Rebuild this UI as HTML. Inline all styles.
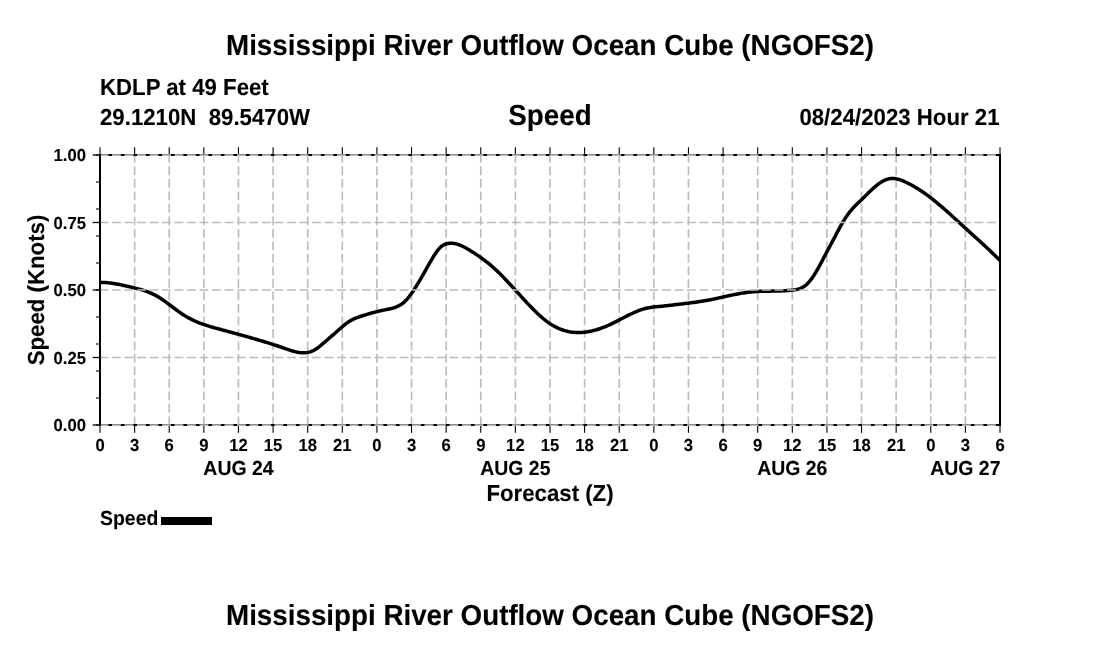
<!DOCTYPE html>
<html lang="en">
<head>
<meta charset="utf-8">
<title>Mississippi River Outflow Ocean Cube (NGOFS2)</title>
<style>
html,body{margin:0;padding:0;background:#fff;}
body{width:1100px;height:650px;overflow:hidden;}
svg{display:block;}
text{font-family:"Liberation Sans",Arial,Helvetica,sans-serif;font-weight:bold;fill:#000;text-rendering:geometricPrecision;white-space:pre;stroke:#000;stroke-width:0.1px;}
</style>
</head>
<body>
<svg width="1100" height="650" viewBox="0 0 1100 650">
<rect x="0" y="0" width="1100" height="650" fill="#fff"/>
<!-- headings -->
<text transform="translate(550.00,54.50) scale(1,1.0436)" font-size="27.78" text-anchor="middle">Mississippi River Outflow Ocean Cube (NGOFS2)</text>
<text transform="translate(100.00,95.00) scale(1,1.0436)" font-size="22.22" xml:space="preserve">KDLP at 49 Feet</text>
<text transform="translate(100.00,125.20) scale(1,1.0436)" font-size="22.22" xml:space="preserve">29.1210N  89.5470W</text>
<text transform="translate(550.00,125.40) scale(1,1.0436)" font-size="27.78" text-anchor="middle">Speed</text>
<text transform="translate(999.50,125.40) scale(1,1.0436)" font-size="22.22" text-anchor="end">08/24/2023 Hour 21</text>
<!-- vertical grid -->
<g stroke="#bcbcbc" stroke-width="1.65" fill="none" stroke-dasharray="8.9 3.6" stroke-dashoffset="1.1">
<line x1="134.62" y1="155.0" x2="134.62" y2="425.0"/>
<line x1="169.23" y1="155.0" x2="169.23" y2="425.0"/>
<line x1="203.85" y1="155.0" x2="203.85" y2="425.0"/>
<line x1="238.46" y1="155.0" x2="238.46" y2="425.0"/>
<line x1="273.08" y1="155.0" x2="273.08" y2="425.0"/>
<line x1="307.69" y1="155.0" x2="307.69" y2="425.0"/>
<line x1="342.31" y1="155.0" x2="342.31" y2="425.0"/>
<line x1="376.92" y1="155.0" x2="376.92" y2="425.0"/>
<line x1="411.54" y1="155.0" x2="411.54" y2="425.0"/>
<line x1="446.15" y1="155.0" x2="446.15" y2="425.0"/>
<line x1="480.77" y1="155.0" x2="480.77" y2="425.0"/>
<line x1="515.38" y1="155.0" x2="515.38" y2="425.0"/>
<line x1="550.00" y1="155.0" x2="550.00" y2="425.0"/>
<line x1="584.62" y1="155.0" x2="584.62" y2="425.0"/>
<line x1="619.23" y1="155.0" x2="619.23" y2="425.0"/>
<line x1="653.85" y1="155.0" x2="653.85" y2="425.0"/>
<line x1="688.46" y1="155.0" x2="688.46" y2="425.0"/>
<line x1="723.08" y1="155.0" x2="723.08" y2="425.0"/>
<line x1="757.69" y1="155.0" x2="757.69" y2="425.0"/>
<line x1="792.31" y1="155.0" x2="792.31" y2="425.0"/>
<line x1="826.92" y1="155.0" x2="826.92" y2="425.0"/>
<line x1="861.54" y1="155.0" x2="861.54" y2="425.0"/>
<line x1="896.15" y1="155.0" x2="896.15" y2="425.0"/>
<line x1="930.77" y1="155.0" x2="930.77" y2="425.0"/>
<line x1="965.38" y1="155.0" x2="965.38" y2="425.0"/>
</g>
<!-- frame: top and bottom axes with ticks -->
<g stroke="#000" fill="none">
<line x1="99.0" y1="155.0" x2="1001.0" y2="155.0" stroke-width="2"/>
<line x1="99.0" y1="425.0" x2="1001.0" y2="425.0" stroke-width="2"/>
<line x1="100.00" y1="155.0" x2="100.00" y2="147.2" stroke-width="1.1"/>
<line x1="100.00" y1="425.0" x2="100.00" y2="432.8" stroke-width="1.1"/>
<line x1="134.62" y1="155.0" x2="134.62" y2="147.2" stroke-width="1.1"/>
<line x1="134.62" y1="425.0" x2="134.62" y2="432.8" stroke-width="1.1"/>
<line x1="169.23" y1="155.0" x2="169.23" y2="147.2" stroke-width="1.1"/>
<line x1="169.23" y1="425.0" x2="169.23" y2="432.8" stroke-width="1.1"/>
<line x1="203.85" y1="155.0" x2="203.85" y2="147.2" stroke-width="1.1"/>
<line x1="203.85" y1="425.0" x2="203.85" y2="432.8" stroke-width="1.1"/>
<line x1="238.46" y1="155.0" x2="238.46" y2="147.2" stroke-width="1.1"/>
<line x1="238.46" y1="425.0" x2="238.46" y2="432.8" stroke-width="1.1"/>
<line x1="273.08" y1="155.0" x2="273.08" y2="147.2" stroke-width="1.1"/>
<line x1="273.08" y1="425.0" x2="273.08" y2="432.8" stroke-width="1.1"/>
<line x1="307.69" y1="155.0" x2="307.69" y2="147.2" stroke-width="1.1"/>
<line x1="307.69" y1="425.0" x2="307.69" y2="432.8" stroke-width="1.1"/>
<line x1="342.31" y1="155.0" x2="342.31" y2="147.2" stroke-width="1.1"/>
<line x1="342.31" y1="425.0" x2="342.31" y2="432.8" stroke-width="1.1"/>
<line x1="376.92" y1="155.0" x2="376.92" y2="147.2" stroke-width="1.1"/>
<line x1="376.92" y1="425.0" x2="376.92" y2="432.8" stroke-width="1.1"/>
<line x1="411.54" y1="155.0" x2="411.54" y2="147.2" stroke-width="1.1"/>
<line x1="411.54" y1="425.0" x2="411.54" y2="432.8" stroke-width="1.1"/>
<line x1="446.15" y1="155.0" x2="446.15" y2="147.2" stroke-width="1.1"/>
<line x1="446.15" y1="425.0" x2="446.15" y2="432.8" stroke-width="1.1"/>
<line x1="480.77" y1="155.0" x2="480.77" y2="147.2" stroke-width="1.1"/>
<line x1="480.77" y1="425.0" x2="480.77" y2="432.8" stroke-width="1.1"/>
<line x1="515.38" y1="155.0" x2="515.38" y2="147.2" stroke-width="1.1"/>
<line x1="515.38" y1="425.0" x2="515.38" y2="432.8" stroke-width="1.1"/>
<line x1="550.00" y1="155.0" x2="550.00" y2="147.2" stroke-width="1.1"/>
<line x1="550.00" y1="425.0" x2="550.00" y2="432.8" stroke-width="1.1"/>
<line x1="584.62" y1="155.0" x2="584.62" y2="147.2" stroke-width="1.1"/>
<line x1="584.62" y1="425.0" x2="584.62" y2="432.8" stroke-width="1.1"/>
<line x1="619.23" y1="155.0" x2="619.23" y2="147.2" stroke-width="1.1"/>
<line x1="619.23" y1="425.0" x2="619.23" y2="432.8" stroke-width="1.1"/>
<line x1="653.85" y1="155.0" x2="653.85" y2="147.2" stroke-width="1.1"/>
<line x1="653.85" y1="425.0" x2="653.85" y2="432.8" stroke-width="1.1"/>
<line x1="688.46" y1="155.0" x2="688.46" y2="147.2" stroke-width="1.1"/>
<line x1="688.46" y1="425.0" x2="688.46" y2="432.8" stroke-width="1.1"/>
<line x1="723.08" y1="155.0" x2="723.08" y2="147.2" stroke-width="1.1"/>
<line x1="723.08" y1="425.0" x2="723.08" y2="432.8" stroke-width="1.1"/>
<line x1="757.69" y1="155.0" x2="757.69" y2="147.2" stroke-width="1.1"/>
<line x1="757.69" y1="425.0" x2="757.69" y2="432.8" stroke-width="1.1"/>
<line x1="792.31" y1="155.0" x2="792.31" y2="147.2" stroke-width="1.1"/>
<line x1="792.31" y1="425.0" x2="792.31" y2="432.8" stroke-width="1.1"/>
<line x1="826.92" y1="155.0" x2="826.92" y2="147.2" stroke-width="1.1"/>
<line x1="826.92" y1="425.0" x2="826.92" y2="432.8" stroke-width="1.1"/>
<line x1="861.54" y1="155.0" x2="861.54" y2="147.2" stroke-width="1.1"/>
<line x1="861.54" y1="425.0" x2="861.54" y2="432.8" stroke-width="1.1"/>
<line x1="896.15" y1="155.0" x2="896.15" y2="147.2" stroke-width="1.1"/>
<line x1="896.15" y1="425.0" x2="896.15" y2="432.8" stroke-width="1.1"/>
<line x1="930.77" y1="155.0" x2="930.77" y2="147.2" stroke-width="1.1"/>
<line x1="930.77" y1="425.0" x2="930.77" y2="432.8" stroke-width="1.1"/>
<line x1="965.38" y1="155.0" x2="965.38" y2="147.2" stroke-width="1.1"/>
<line x1="965.38" y1="425.0" x2="965.38" y2="432.8" stroke-width="1.1"/>
<line x1="1000.00" y1="155.0" x2="1000.00" y2="147.2" stroke-width="1.1"/>
<line x1="1000.00" y1="425.0" x2="1000.00" y2="432.8" stroke-width="1.1"/>
<line x1="100.0" y1="425.00" x2="96.0" y2="425.00" stroke-width="1.1"/>
<line x1="100.0" y1="398.00" x2="96.0" y2="398.00" stroke-width="1.1"/>
<line x1="100.0" y1="371.00" x2="96.0" y2="371.00" stroke-width="1.1"/>
<line x1="100.0" y1="344.00" x2="96.0" y2="344.00" stroke-width="1.1"/>
<line x1="100.0" y1="317.00" x2="96.0" y2="317.00" stroke-width="1.1"/>
<line x1="100.0" y1="290.00" x2="96.0" y2="290.00" stroke-width="1.1"/>
<line x1="100.0" y1="263.00" x2="96.0" y2="263.00" stroke-width="1.1"/>
<line x1="100.0" y1="236.00" x2="96.0" y2="236.00" stroke-width="1.1"/>
<line x1="100.0" y1="209.00" x2="96.0" y2="209.00" stroke-width="1.1"/>
<line x1="100.0" y1="182.00" x2="96.0" y2="182.00" stroke-width="1.1"/>
<line x1="100.0" y1="155.00" x2="96.0" y2="155.00" stroke-width="1.1"/>
<line x1="100.0" y1="425.00" x2="92.7" y2="425.00" stroke-width="1.3"/>
<line x1="100.0" y1="357.50" x2="92.7" y2="357.50" stroke-width="1.3"/>
<line x1="100.0" y1="290.00" x2="92.7" y2="290.00" stroke-width="1.3"/>
<line x1="100.0" y1="222.50" x2="92.7" y2="222.50" stroke-width="1.3"/>
<line x1="100.0" y1="155.00" x2="92.7" y2="155.00" stroke-width="1.3"/>
</g>
<!-- speed curve -->
<clipPath id="pc"><rect x="100.0" y="155.0" width="900.0" height="270.0"/></clipPath>
<polyline points="100.0,282.52 101.5,282.49 103.0,282.50 104.5,282.54 106.0,282.62 107.5,282.73 109.0,282.87 110.5,283.04 112.0,283.24 113.5,283.46 115.0,283.70 116.5,283.96 118.0,284.24 119.5,284.54 121.0,284.85 122.5,285.17 124.0,285.51 125.5,285.85 127.0,286.20 128.5,286.55 130.0,286.90 131.5,287.25 133.0,287.61 134.5,287.97 136.0,288.33 137.5,288.71 139.0,289.10 140.5,289.51 142.0,289.94 143.5,290.40 145.0,290.88 146.5,291.39 148.0,291.95 149.5,292.53 151.0,293.17 152.5,293.84 154.0,294.57 155.5,295.35 157.0,296.18 158.5,297.07 160.0,298.01 161.5,298.99 163.0,300.01 164.5,301.06 166.0,302.14 167.5,303.24 169.0,304.36 170.5,305.49 172.0,306.62 173.5,307.75 175.0,308.88 176.5,309.99 178.0,311.09 179.5,312.16 181.0,313.21 182.5,314.22 184.0,315.19 185.5,316.12 187.0,317.01 188.5,317.85 190.0,318.66 191.5,319.43 193.0,320.16 194.5,320.86 196.0,321.52 197.5,322.16 199.0,322.76 200.5,323.34 202.0,323.90 203.5,324.43 205.0,324.94 206.5,325.43 208.0,325.91 209.5,326.37 211.0,326.81 212.5,327.25 214.0,327.67 215.5,328.09 217.0,328.50 218.5,328.90 220.0,329.31 221.5,329.71 223.0,330.11 224.5,330.52 226.0,330.92 227.5,331.32 229.0,331.73 230.5,332.13 232.0,332.54 233.5,332.95 235.0,333.35 236.5,333.76 238.0,334.18 239.5,334.59 241.0,335.00 242.5,335.42 244.0,335.84 245.5,336.26 247.0,336.68 248.5,337.10 250.0,337.53 251.5,337.96 253.0,338.39 254.5,338.82 256.0,339.26 257.5,339.70 259.0,340.15 260.5,340.59 262.0,341.04 263.5,341.50 265.0,341.96 266.5,342.42 268.0,342.88 269.5,343.35 271.0,343.83 272.5,344.30 274.0,344.79 275.5,345.27 277.0,345.77 278.5,346.26 280.0,346.76 281.5,347.27 283.0,347.78 284.5,348.30 286.0,348.82 287.5,349.34 289.0,349.85 290.5,350.34 292.0,350.81 293.5,351.25 295.0,351.65 296.5,352.00 298.0,352.30 299.5,352.54 301.0,352.71 302.5,352.80 304.0,352.81 305.5,352.73 307.0,352.55 308.5,352.27 310.0,351.87 311.5,351.35 313.0,350.71 314.5,349.93 316.0,349.02 317.5,348.01 319.0,346.90 320.5,345.71 322.0,344.46 323.5,343.17 325.0,341.85 326.5,340.52 328.0,339.20 329.5,337.90 331.0,336.61 332.5,335.33 334.0,334.05 335.5,332.74 337.0,331.41 338.5,330.06 340.0,328.72 341.5,327.39 343.0,326.10 344.5,324.86 346.0,323.68 347.5,322.58 349.0,321.57 350.5,320.66 352.0,319.86 353.5,319.13 355.0,318.48 356.5,317.87 358.0,317.31 359.5,316.76 361.0,316.25 362.5,315.75 364.0,315.27 365.5,314.80 367.0,314.35 368.5,313.91 370.0,313.48 371.5,313.06 373.0,312.66 374.5,312.26 376.0,311.88 377.5,311.51 379.0,311.15 380.5,310.81 382.0,310.47 383.5,310.15 385.0,309.84 386.5,309.54 388.0,309.24 389.5,308.92 391.0,308.58 392.5,308.19 394.0,307.75 395.5,307.23 397.0,306.64 398.5,305.95 400.0,305.14 401.5,304.20 403.0,303.10 404.5,301.82 406.0,300.34 407.5,298.66 409.0,296.81 410.5,294.79 412.0,292.66 413.5,290.45 415.0,288.15 416.5,285.79 418.0,283.36 419.5,280.86 421.0,278.31 422.5,275.70 424.0,273.05 425.5,270.38 427.0,267.70 428.5,265.04 430.0,262.41 431.5,259.83 433.0,257.33 434.5,254.93 436.0,252.67 437.5,250.59 439.0,248.75 440.5,247.18 442.0,245.94 443.5,244.99 445.0,244.29 446.5,243.78 448.0,243.43 449.5,243.22 451.0,243.16 452.5,243.22 454.0,243.39 455.5,243.68 457.0,244.08 458.5,244.56 460.0,245.13 461.5,245.77 463.0,246.48 464.5,247.25 466.0,248.06 467.5,248.91 469.0,249.80 470.5,250.71 472.0,251.65 473.5,252.61 475.0,253.59 476.5,254.60 478.0,255.63 479.5,256.68 481.0,257.74 482.5,258.83 484.0,259.94 485.5,261.08 487.0,262.24 488.5,263.44 490.0,264.67 491.5,265.94 493.0,267.24 494.5,268.59 496.0,269.97 497.5,271.39 499.0,272.84 500.5,274.32 502.0,275.83 503.5,277.36 505.0,278.91 506.5,280.49 508.0,282.08 509.5,283.69 511.0,285.31 512.5,286.94 514.0,288.58 515.5,290.23 517.0,291.88 518.5,293.53 520.0,295.18 521.5,296.83 523.0,298.47 524.5,300.10 526.0,301.72 527.5,303.33 529.0,304.92 530.5,306.49 532.0,308.04 533.5,309.56 535.0,311.06 536.5,312.52 538.0,313.94 539.5,315.33 541.0,316.67 542.5,317.97 544.0,319.22 545.5,320.42 547.0,321.57 548.5,322.66 550.0,323.69 551.5,324.65 553.0,325.56 554.5,326.40 556.0,327.18 557.5,327.91 559.0,328.57 560.5,329.18 562.0,329.74 563.5,330.24 565.0,330.68 566.5,331.08 568.0,331.42 569.5,331.71 571.0,331.96 572.5,332.16 574.0,332.31 575.5,332.41 577.0,332.47 578.5,332.49 580.0,332.47 581.5,332.40 583.0,332.30 584.5,332.15 586.0,331.97 587.5,331.76 589.0,331.50 590.5,331.21 592.0,330.89 593.5,330.53 595.0,330.14 596.5,329.72 598.0,329.26 599.5,328.78 601.0,328.26 602.5,327.72 604.0,327.14 605.5,326.54 607.0,325.91 608.5,325.25 610.0,324.57 611.5,323.86 613.0,323.14 614.5,322.39 616.0,321.63 617.5,320.86 619.0,320.08 620.5,319.30 622.0,318.52 623.5,317.73 625.0,316.95 626.5,316.18 628.0,315.42 629.5,314.68 631.0,313.95 632.5,313.24 634.0,312.56 635.5,311.90 637.0,311.27 638.5,310.68 640.0,310.12 641.5,309.60 643.0,309.12 644.5,308.69 646.0,308.31 647.5,307.98 649.0,307.69 650.5,307.44 652.0,307.22 653.5,307.03 655.0,306.86 656.5,306.71 658.0,306.57 659.5,306.44 661.0,306.30 662.5,306.17 664.0,306.02 665.5,305.86 667.0,305.69 668.5,305.51 670.0,305.32 671.5,305.14 673.0,304.95 674.5,304.77 676.0,304.59 677.5,304.42 679.0,304.24 680.5,304.06 682.0,303.89 683.5,303.71 685.0,303.53 686.5,303.35 688.0,303.17 689.5,302.98 691.0,302.79 692.5,302.60 694.0,302.40 695.5,302.20 697.0,301.99 698.5,301.77 700.0,301.55 701.5,301.31 703.0,301.07 704.5,300.83 706.0,300.57 707.5,300.30 709.0,300.02 710.5,299.73 712.0,299.43 713.5,299.12 715.0,298.80 716.5,298.48 718.0,298.15 719.5,297.82 721.0,297.49 722.5,297.15 724.0,296.81 725.5,296.48 727.0,296.14 728.5,295.81 730.0,295.48 731.5,295.16 733.0,294.84 734.5,294.53 736.0,294.23 737.5,293.94 739.0,293.66 740.5,293.39 742.0,293.14 743.5,292.90 745.0,292.67 746.5,292.46 748.0,292.27 749.5,292.10 751.0,291.95 752.5,291.81 754.0,291.69 755.5,291.59 757.0,291.51 758.5,291.43 760.0,291.37 761.5,291.32 763.0,291.27 764.5,291.24 766.0,291.20 767.5,291.18 769.0,291.16 770.5,291.13 772.0,291.11 773.5,291.09 775.0,291.07 776.5,291.04 778.0,291.01 779.5,290.97 781.0,290.92 782.5,290.86 784.0,290.79 785.5,290.71 787.0,290.61 788.5,290.50 790.0,290.38 791.5,290.23 793.0,290.07 794.5,289.87 796.0,289.62 797.5,289.29 799.0,288.87 800.5,288.33 802.0,287.65 803.5,286.81 805.0,285.79 806.5,284.57 808.0,283.12 809.5,281.44 811.0,279.54 812.5,277.46 814.0,275.19 815.5,272.78 817.0,270.24 818.5,267.59 820.0,264.86 821.5,262.06 823.0,259.22 824.5,256.36 826.0,253.50 827.5,250.65 829.0,247.84 830.5,245.03 832.0,242.23 833.5,239.41 835.0,236.58 836.5,233.73 838.0,230.88 839.5,228.09 841.0,225.38 842.5,222.77 844.0,220.26 845.5,217.88 847.0,215.65 848.5,213.56 850.0,211.64 851.5,209.84 853.0,208.16 854.5,206.56 856.0,205.04 857.5,203.57 859.0,202.12 860.5,200.69 862.0,199.24 863.5,197.77 865.0,196.28 866.5,194.79 868.0,193.30 869.5,191.83 871.0,190.39 872.5,188.98 874.0,187.62 875.5,186.32 877.0,185.09 878.5,183.94 880.0,182.87 881.5,181.91 883.0,181.05 884.5,180.32 886.0,179.71 887.5,179.22 889.0,178.85 890.5,178.61 892.0,178.49 893.5,178.49 895.0,178.61 896.5,178.85 898.0,179.18 899.5,179.61 901.0,180.11 902.5,180.69 904.0,181.32 905.5,182.00 907.0,182.72 908.5,183.47 910.0,184.25 911.5,185.06 913.0,185.89 914.5,186.76 916.0,187.65 917.5,188.56 919.0,189.51 920.5,190.48 922.0,191.47 923.5,192.49 925.0,193.54 926.5,194.61 928.0,195.71 929.5,196.83 931.0,197.98 932.5,199.15 934.0,200.34 935.5,201.55 937.0,202.79 938.5,204.04 940.0,205.31 941.5,206.59 943.0,207.89 944.5,209.21 946.0,210.53 947.5,211.87 949.0,213.22 950.5,214.57 952.0,215.93 953.5,217.30 955.0,218.67 956.5,220.05 958.0,221.42 959.5,222.80 961.0,224.18 962.5,225.55 964.0,226.92 965.5,228.29 967.0,229.65 968.5,231.01 970.0,232.37 971.5,233.72 973.0,235.08 974.5,236.43 976.0,237.79 977.5,239.14 979.0,240.51 980.5,241.87 982.0,243.25 983.5,244.63 985.0,246.02 986.5,247.42 988.0,248.83 989.5,250.25 991.0,251.68 992.5,253.13 994.0,254.59 995.5,256.07 997.0,257.57 998.5,259.09 1000.0,260.62" fill="none" stroke="#000" stroke-width="3.5" stroke-linejoin="round" stroke-linecap="butt" clip-path="url(#pc)"/>
<!-- horizontal grid -->
<g stroke="#bcbcbc" stroke-width="1.65" fill="none" stroke-dasharray="8.9 3.6" stroke-dashoffset="0.5">
<line x1="100.0" y1="425.10" x2="1000.0" y2="425.10" stroke-width="1.8"/>
<line x1="100.0" y1="357.50" x2="1000.0" y2="357.50"/>
<line x1="100.0" y1="290.00" x2="1000.0" y2="290.00"/>
<line x1="100.0" y1="222.50" x2="1000.0" y2="222.50"/>
<line x1="100.0" y1="155.10" x2="1000.0" y2="155.10" stroke-width="1.8"/>
</g>
<!-- left and right axes -->
<line x1="100.0" y1="154.0" x2="100.0" y2="426.0" stroke="#000" stroke-width="2"/>
<line x1="1000.0" y1="154.0" x2="1000.0" y2="426.0" stroke="#000" stroke-width="2"/>
<!-- tick labels -->
<text transform="translate(100.00,451.40) scale(1,1.0436)" font-size="16.67" text-anchor="middle">0</text>
<text transform="translate(134.62,451.40) scale(1,1.0436)" font-size="16.67" text-anchor="middle">3</text>
<text transform="translate(169.23,451.40) scale(1,1.0436)" font-size="16.67" text-anchor="middle">6</text>
<text transform="translate(203.85,451.40) scale(1,1.0436)" font-size="16.67" text-anchor="middle">9</text>
<text transform="translate(238.46,451.40) scale(1,1.0436)" font-size="16.67" text-anchor="middle">12</text>
<text transform="translate(273.08,451.40) scale(1,1.0436)" font-size="16.67" text-anchor="middle">15</text>
<text transform="translate(307.69,451.40) scale(1,1.0436)" font-size="16.67" text-anchor="middle">18</text>
<text transform="translate(342.31,451.40) scale(1,1.0436)" font-size="16.67" text-anchor="middle">21</text>
<text transform="translate(376.92,451.40) scale(1,1.0436)" font-size="16.67" text-anchor="middle">0</text>
<text transform="translate(411.54,451.40) scale(1,1.0436)" font-size="16.67" text-anchor="middle">3</text>
<text transform="translate(446.15,451.40) scale(1,1.0436)" font-size="16.67" text-anchor="middle">6</text>
<text transform="translate(480.77,451.40) scale(1,1.0436)" font-size="16.67" text-anchor="middle">9</text>
<text transform="translate(515.38,451.40) scale(1,1.0436)" font-size="16.67" text-anchor="middle">12</text>
<text transform="translate(550.00,451.40) scale(1,1.0436)" font-size="16.67" text-anchor="middle">15</text>
<text transform="translate(584.62,451.40) scale(1,1.0436)" font-size="16.67" text-anchor="middle">18</text>
<text transform="translate(619.23,451.40) scale(1,1.0436)" font-size="16.67" text-anchor="middle">21</text>
<text transform="translate(653.85,451.40) scale(1,1.0436)" font-size="16.67" text-anchor="middle">0</text>
<text transform="translate(688.46,451.40) scale(1,1.0436)" font-size="16.67" text-anchor="middle">3</text>
<text transform="translate(723.08,451.40) scale(1,1.0436)" font-size="16.67" text-anchor="middle">6</text>
<text transform="translate(757.69,451.40) scale(1,1.0436)" font-size="16.67" text-anchor="middle">9</text>
<text transform="translate(792.31,451.40) scale(1,1.0436)" font-size="16.67" text-anchor="middle">12</text>
<text transform="translate(826.92,451.40) scale(1,1.0436)" font-size="16.67" text-anchor="middle">15</text>
<text transform="translate(861.54,451.40) scale(1,1.0436)" font-size="16.67" text-anchor="middle">18</text>
<text transform="translate(896.15,451.40) scale(1,1.0436)" font-size="16.67" text-anchor="middle">21</text>
<text transform="translate(930.77,451.40) scale(1,1.0436)" font-size="16.67" text-anchor="middle">0</text>
<text transform="translate(965.38,451.40) scale(1,1.0436)" font-size="16.67" text-anchor="middle">3</text>
<text transform="translate(1000.00,451.40) scale(1,1.0436)" font-size="16.67" text-anchor="middle">6</text>
<text transform="translate(86.00,431.00) scale(1,1.0436)" font-size="16.67" text-anchor="end">0.00</text>
<text transform="translate(86.00,363.50) scale(1,1.0436)" font-size="16.67" text-anchor="end">0.25</text>
<text transform="translate(86.00,296.00) scale(1,1.0436)" font-size="16.67" text-anchor="end">0.50</text>
<text transform="translate(86.00,228.50) scale(1,1.0436)" font-size="16.67" text-anchor="end">0.75</text>
<text transform="translate(86.00,161.00) scale(1,1.0436)" font-size="16.67" text-anchor="end">1.00</text>
<text transform="translate(238.46,475.00) scale(1,1.0436)" font-size="19.44" text-anchor="middle">AUG 24</text>
<text transform="translate(515.38,475.00) scale(1,1.0436)" font-size="19.44" text-anchor="middle">AUG 25</text>
<text transform="translate(792.31,475.00) scale(1,1.0436)" font-size="19.44" text-anchor="middle">AUG 26</text>
<text transform="translate(965.38,475.00) scale(1,1.0436)" font-size="19.44" text-anchor="middle">AUG 27</text>
<text transform="translate(550.00,501.00) scale(1,1.0436)" font-size="22.22" text-anchor="middle">Forecast (Z)</text>
<text transform="translate(43.5,290) rotate(-90) scale(1,1.0436)" font-size="22.22" text-anchor="middle">Speed (Knots)</text>
<!-- legend -->
<text transform="translate(100.00,525.00) scale(1,1.0436)" font-size="19.44">Speed</text>
<rect x="161" y="517" width="51" height="8" fill="#000"/>
<!-- footer title -->
<text transform="translate(550.00,624.50) scale(1,1.0436)" font-size="27.78" text-anchor="middle">Mississippi River Outflow Ocean Cube (NGOFS2)</text>
</svg>
</body>
</html>
